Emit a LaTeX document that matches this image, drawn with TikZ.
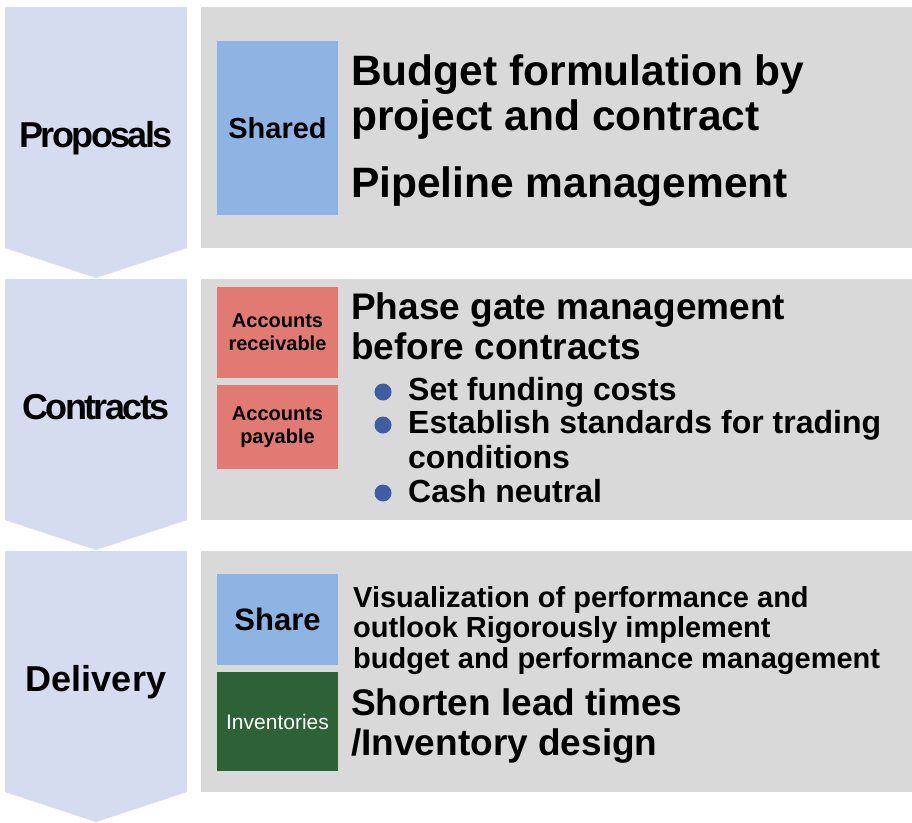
\documentclass[tikz,border=0pt]{standalone}
\usepackage{fontspec}
\setmainfont{Liberation Sans}
\usetikzlibrary{positioning}

\definecolor{stagefill}{HTML}{D6DCEF}
\definecolor{panelgray}{HTML}{D9D9D9}
\definecolor{shareblue}{HTML}{8DB4E2}
\definecolor{accred}{HTML}{E07A72}
\definecolor{invgreen}{HTML}{2D6236}
\definecolor{dotblue}{HTML}{3E5DA3}

\tikzset{
  stage/.style={fill=stagefill},
  panel/.style={fill=panelgray},
  stagelabel/.style={anchor=base,inner sep=0pt,font=\bfseries\fontsize{36}{40}\selectfont},
  tag/.style={inner sep=0pt,minimum width=121pt,align=center},
  bigtext/.style={anchor=base west,inner sep=0pt,align=left,font=\bfseries\fontsize{42.5}{45}\selectfont},
  midtext/.style={anchor=base west,inner sep=0pt,align=left,font=\bfseries\fontsize{37}{40}\selectfont},
  itemtext/.style={anchor=base west,inner sep=0pt,align=left,font=\bfseries\fontsize{32}{35}\selectfont},
  smalltext/.style={anchor=base west,inner sep=0pt,align=left,font=\bfseries\fontsize{29}{30.5}\selectfont},
}

\begin{document}
\begin{tikzpicture}[x=1pt,y=-1pt]
  \useasboundingbox (0,0) rectangle (912,822);

  % three stages: chevron on the left, gray panel on the right
  \foreach \top/\lab/\ls in {7/Proposals/-7,279/Contracts/-7,551/Delivery/0} {
    \fill[stage] (5,\top) -- (187,\top) -- (187,{\top+241}) -- (96,{\top+271})
      -- (5,{\top+241}) -- cycle;
    \fill[panel] (201,\top) rectangle (912,{\top+241});
    \node[stagelabel] (stage-\lab) at (96,{\top+140}) {\addfontfeature{LetterSpace=\ls}\lab};
  }

  % coloured tags
  \node[tag,fill=shareblue,minimum height=174pt,font=\bfseries\fontsize{29}{32}\selectfont]
    (shared) at (277.5,128) {Shared};
  \node[tag,fill=accred,minimum height=91pt,font=\bfseries\fontsize{20}{23}\selectfont]
    (receivable) at (277.5,332.5) {Accounts\\receivable};
  \node[tag,fill=accred,minimum height=84pt,font=\bfseries\fontsize{20}{23}\selectfont]
    (payable) at (277.5,427) {Accounts\\payable};
  \node[tag,fill=shareblue,minimum height=91pt,font=\bfseries\fontsize{31}{34}\selectfont]
    (share) at (277.5,619.5) {Share};
  \node[tag,fill=invgreen,minimum height=99pt,text=white,font=\fontsize{21}{24}\selectfont]
    (inventories) at (277.5,721.5) {Inventories};

  % proposals (base anchor sits on the last line)
  \node[bigtext] (budget) at (351,130) {Budget formulation by\\project and contract};
  \node[bigtext] (pipeline) at (351,197) {Pipeline management};

  % contracts
  \node[midtext] (phase) at (351,359) {Phase gate management\\before contracts};
  \node[itemtext] (funding) at (408,400) {Set funding costs};
  \node[itemtext] (standards) at (408,468) {Establish standards for trading\\conditions};
  \node[itemtext] (neutral) at (408,502) {Cash neutral};
  \foreach \y in {392,425,493}
    \fill[dotblue] (383,\y) circle (8.5);

  % delivery
  \node[smalltext] (visual) at (353,668)
    {Visualization of performance and\\outlook Rigorously implement\\budget and performance management};
  \node[midtext] (shorten) at (351,755) {Shorten lead times\\/Inventory design};
\end{tikzpicture}
\end{document}
